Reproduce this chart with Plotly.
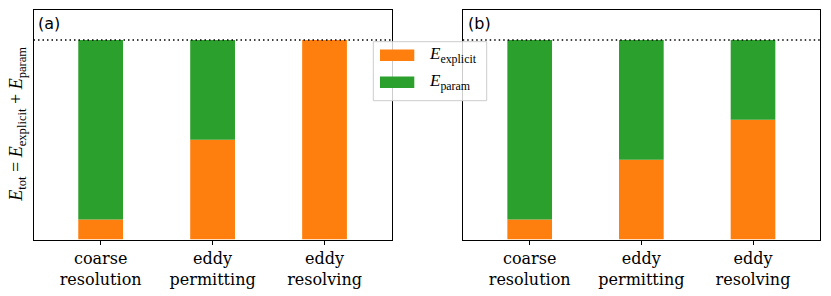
import plotly.graph_objects as go
from plotly.subplots import make_subplots

categories = ["coarse<br>resolution", "eddy<br>permitting", "eddy<br>resolving"]
explicit_a = [0.1, 0.5, 1.0]
param_a = [0.9, 0.5, 0.0]
explicit_b = [0.1, 0.4, 0.6]
param_b = [0.9, 0.6, 0.4]
total_level = 1.0
panel_labels = ["(a)", "(b)"]
series_names = ["<i>E</i><sub>explicit</sub>", "<i>E</i><sub>param</sub>"]
ylabel = ("<i>E</i><sub>tot</sub> = <i>E</i><sub>explicit</sub> + "
          "<i>E</i><sub>param</sub>")

ORANGE = "#ff7f0e"
GREEN = "#2ca02c"
W, H = 831, 296
SERIF = "Liberation Serif"
TICKFONT = "DejaVu Serif"

fig = make_subplots(rows=1, cols=2)
xs = list(range(len(categories)))

for col, (ex, pa) in enumerate([(explicit_a, param_a), (explicit_b, param_b)], start=1):
    fig.add_trace(go.Bar(x=xs, y=ex, marker=dict(color=ORANGE, line=dict(width=0)),
                         width=0.4, name=series_names[0], showlegend=False),
                  row=1, col=col)
    fig.add_trace(go.Bar(x=xs, y=pa, base=ex, marker=dict(color=GREEN, line=dict(width=0)),
                         width=0.4, name=series_names[1], showlegend=False),
                  row=1, col=col)

xdoms = [[33.5 / W, 391.7 / W], [462.7 / W, 820 / W]]
ydom = [1 - 239.5 / H, 1 - 10 / H]
axcommon = dict(showline=True, linecolor="black", linewidth=1.2, mirror=True,
                showgrid=False, zeroline=False)
for i, ax in enumerate(["", "2"]):
    fig.layout["xaxis" + ax].update(
        domain=xdoms[i], range=[-0.6, 2.6], tickmode="array", tickvals=xs,
        ticktext=categories, ticks="outside", ticklen=4, tickwidth=1,
        tickcolor="black", tickfont=dict(family=TICKFONT, size=16, color="black"),
        **axcommon)
    fig.layout["yaxis" + ax].update(
        domain=ydom, range=[0, 1.15], showticklabels=False, ticks="", **axcommon)
    fig.add_shape(type="line", xref=f"x{ax} domain", yref=f"y{ax}",
                  x0=0, x1=1, y0=total_level, y1=total_level,
                  line=dict(color="black", width=1.6, dash="1.5px,3px"), layer="above")
    fig.add_annotation(text=panel_labels[i], xref=f"x{ax} domain", yref=f"y{ax} domain",
                       x=0.008, y=0.99, xanchor="left", yanchor="top", showarrow=False,
                       font=dict(family="DejaVu Sans", size=16, color="black"))

# y-axis label
fig.add_annotation(text=ylabel, xref="paper", yref="paper", x=18 / W,
                   y=(ydom[0] + ydom[1]) / 2, textangle=-90, showarrow=False,
                   xanchor="center", yanchor="middle",
                   font=dict(family=SERIF, size=18, color="black"))

# legend (drawn manually)
def px(x):
    return x / W

def py(y):
    return 1 - y / H

fig.add_shape(type="rect", xref="paper", yref="paper", x0=px(373.3), x1=px(486.7),
              y0=py(100.7), y1=py(41.7), fillcolor="rgba(255,255,255,0.8)",
              line=dict(color="#cccccc", width=1), layer="above")
for k, (color, name, yc) in enumerate([(ORANGE, series_names[0], 55.2),
                                        (GREEN, series_names[1], 82.2)]):
    fig.add_shape(type="rect", xref="paper", yref="paper", x0=px(380), x1=px(414.3),
                  y0=py(yc + 5.8), y1=py(yc - 5.8), fillcolor=color,
                  line=dict(width=0), layer="above")
    fig.add_annotation(text=name, xref="paper", yref="paper", x=px(426.5), y=py(yc),
                       xanchor="left", yanchor="middle", showarrow=False,
                       font=dict(family=SERIF, size=17, color="black"))

fig.update_layout(width=W, height=H, margin=dict(l=0, r=0, t=0, b=0),
                  plot_bgcolor="white", paper_bgcolor="white", barmode="overlay",
                  showlegend=False)
fig.write_html("out.html", config={"displayModeBar": False},
               post_script="document.body.style.margin='0';document.body.style.padding='0';")
